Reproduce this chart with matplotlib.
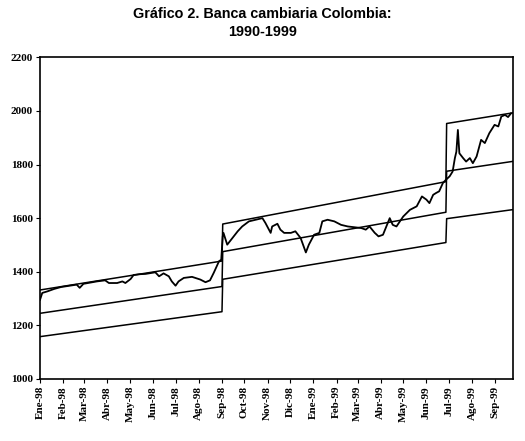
import matplotlib
matplotlib.use("Agg")
import matplotlib.pyplot as plt
import numpy as np
import pandas as pd

# tipo de cambio (lectura aproximada del grafico)
tc_fechas = [
    "1998-01-01", "1998-01-04", "1998-01-11", "1998-01-20", "1998-01-29",
    "1998-02-19", "1998-02-23", "1998-02-28", "1998-03-18", "1998-03-29",
    "1998-04-03", "1998-04-14", "1998-04-21", "1998-04-25", "1998-05-02",
    "1998-05-06", "1998-05-15", "1998-05-22", "1998-06-04", "1998-06-09",
    "1998-06-15", "1998-06-22", "1998-06-26", "1998-07-01", "1998-07-05",
    "1998-07-12", "1998-07-23", "1998-08-03", "1998-08-10", "1998-08-16",
    "1998-08-21", "1998-08-28", "1998-08-31", "1998-09-02", "1998-09-03",
    "1998-09-08", "1998-09-15", "1998-09-22", "1998-09-28", "1998-10-07",
    "1998-10-16", "1998-10-25", "1998-10-29", "1998-11-05", "1998-11-07",
    "1998-11-14", "1998-11-18", "1998-11-23", "1998-12-02", "1998-12-08",
    "1998-12-15", "1998-12-22", "1998-12-26", "1999-01-02", "1999-01-09",
    "1999-01-13", "1999-01-20", "1999-01-29", "1999-02-07", "1999-02-16",
    "1999-02-25", "1999-03-06", "1999-03-12", "1999-03-17", "1999-03-24",
    "1999-03-26", "1999-03-29", "1999-04-04", "1999-04-13", "1999-04-17",
    "1999-04-22", "1999-05-01", "1999-05-10", "1999-05-19", "1999-05-26",
    "1999-06-01", "1999-06-05", "1999-06-10", "1999-06-14", "1999-06-18",
    "1999-06-23", "1999-06-27", "1999-07-02", "1999-07-06", "1999-07-09",
    "1999-07-11", "1999-07-13", "1999-07-15", "1999-07-20", "1999-07-24",
    "1999-07-29", "1999-08-02", "1999-08-07", "1999-08-13", "1999-08-18",
    "1999-08-24", "1999-08-31", "1999-09-05", "1999-09-09", "1999-09-14",
    "1999-09-18", "1999-09-22",
]
tc_valores = [
    1295, 1321, 1327, 1336, 1343,
    1352, 1340, 1355, 1364, 1368,
    1358, 1358, 1364, 1358, 1373,
    1388, 1391, 1392, 1398, 1383,
    1394, 1383, 1364, 1348, 1364,
    1377, 1381, 1371, 1361, 1368,
    1396, 1439, 1445, 1532, 1545,
    1501, 1526, 1551, 1569, 1588,
    1594, 1600, 1582, 1545, 1569,
    1579, 1557, 1545, 1545, 1551,
    1526, 1472, 1501, 1538, 1545,
    1588, 1594, 1588, 1575, 1569,
    1566, 1563, 1557, 1569, 1545,
    1540, 1532, 1538, 1600, 1575,
    1569, 1606, 1631, 1644, 1681,
    1669, 1656, 1687, 1694, 1700,
    1731, 1743, 1756, 1774, 1824,
    1848, 1929, 1842, 1824, 1811,
    1824, 1805, 1830, 1892, 1880,
    1917, 1948, 1942, 1979, 1985,
    1977, 1991,
]

# banda cambiaria: techo, paridad central y piso
banda_fechas = ["1998-01-01", "1998-09-01", "1998-09-02",
                "1999-06-27", "1999-06-28", "1999-09-25"]
techo = [1332, 1440, 1578, 1736, 1953, 1993]
centro = [1245, 1345, 1475, 1622, 1775, 1812]
piso = [1158, 1251, 1372, 1509, 1598, 1632]

meses = ["Ene-98", "Feb-98", "Mar-98", "Abr-98", "May-98", "Jun-98",
         "Jul-98", "Ago-98", "Sep-98", "Oct-98", "Nov-98", "Dic-98",
         "Ene-99", "Feb-99", "Mar-99", "Abr-99", "May-99", "Jun-99",
         "Jul-99", "Ago-99", "Sep-99"]

fig = plt.figure(figsize=(5.25, 4.41), dpi=100)
ax = fig.add_axes([0.0762, 0.1406, 0.9015, 0.7295])

bf = pd.to_datetime(banda_fechas)
for serie in (techo, centro, piso):
    ax.plot(bf, serie, color="black", linewidth=1.1)
ax.plot(pd.to_datetime(tc_fechas), tc_valores, color="black", linewidth=1.3)

ax.set_xlim(pd.Timestamp("1998-01-01"), pd.Timestamp("1999-09-25"))
ax.set_ylim(1000, 2200)
ax.set_yticks(np.arange(1000, 2201, 200))

ticks = pd.date_range("1998-01-01", periods=len(meses), freq="MS")
ax.set_xticks(ticks)
ax.set_xticklabels(meses, rotation=90)

for lab in ax.get_xticklabels() + ax.get_yticklabels():
    lab.set_family("Liberation Serif")
    lab.set_fontsize(8)
    lab.set_fontweight("bold")
ax.tick_params(direction="out", length=3, width=0.8, pad=2)
for s in ax.spines.values():
    s.set_linewidth(1.2)

fig.text(0.5, 0.985, "Gráfico 2. Banca cambiaria Colombia:\n1990-1999",
         ha="center", va="top", fontsize=10.4, fontweight="bold",
         family="Liberation Sans", linespacing=1.4)

fig.savefig("out.png", dpi=100)
